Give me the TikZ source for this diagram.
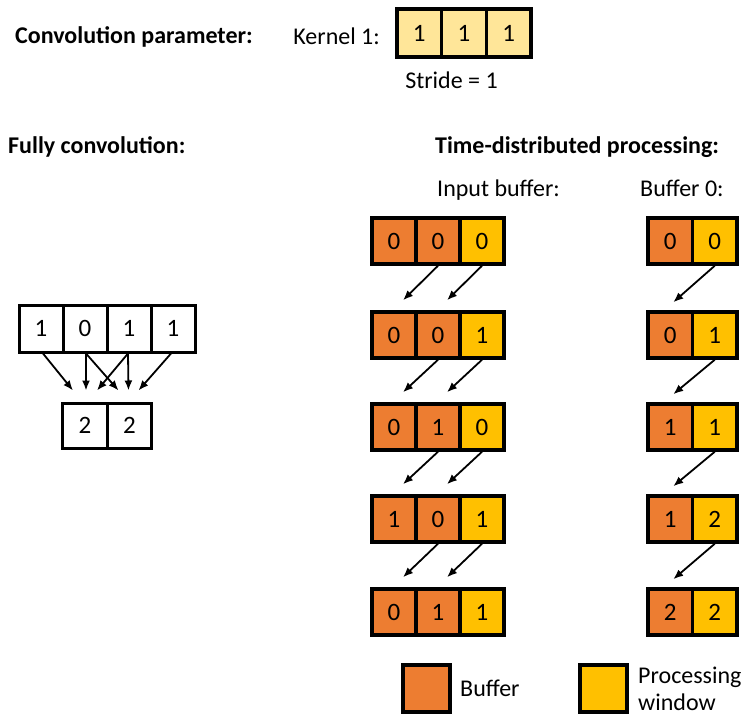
\documentclass[tikz,border=0pt]{standalone}
\usepackage{fontspec}
\setmainfont{Carlito}
\usetikzlibrary{arrows.meta}
\definecolor{bufc}{HTML}{ED7D31}
\definecolor{winc}{HTML}{FFC000}
\definecolor{kerc}{HTML}{FFE699}
\begin{document}
\begin{tikzpicture}[x=1pt,y=-1pt,
  cell/.style={draw=black,line width=3.5pt,minimum width=44pt,minimum height=46pt,inner sep=0pt,font=\fontsize{25}{28}\selectfont},
  bufcell/.style={cell,fill=bufc},
  wincell/.style={cell,fill=winc},
  kcell/.style={cell,fill=kerc,minimum width=44.7pt,minimum height=48pt},
  fcell/.style={cell,fill=white,line width=3pt,minimum height=47pt},
  lbl/.style={inner sep=0pt,font=\fontsize{24}{28}\selectfont},
  ttl/.style={inner sep=0pt,font=\fontsize{24}{28}\selectfont\bfseries},
  arr/.style={-{Latex[length=10pt,width=8pt]},line width=1.8pt}]
\useasboundingbox (0,0) rectangle (745,715);
% titles
\node[ttl,anchor=base west] (t1) at (15,43) {Convolution parameter:};
\node[lbl,anchor=base east] (kl) at (380,44) {Kernel 1:};
\node[kcell] (k1) at (419.3,33) {1};
\node[kcell] (k2) at (464,33) {1};
\node[kcell] (k3) at (508.7,33) {1};
\node[lbl,anchor=base] (st) at (451.5,88) {Stride = 1};
\node[ttl,anchor=base west] (t2) at (8,153) {Fully convolution:};
\node[ttl,anchor=base west] (t3) at (435,153) {Time-distributed processing:};
\node[lbl,anchor=base west] (t4) at (437,196) {Input buffer:};
\node[lbl,anchor=base west] (t5) at (640,196) {Buffer 0:};
% fully convolution
\foreach \v [count=\i] in {1,0,1,1}
  \node[fcell] (f\i) at ({19+22+44*(\i-1)},328.5) {\v};
\node[fcell,minimum width=44.5pt,minimum height=45pt] (o1) at (85,425.5) {2};
\node[fcell,minimum width=44.5pt,minimum height=45pt] (o2) at (129.5,425.5) {2};
\draw[arr] ([xshift=2pt]f1.south) -- ([xshift=-12pt,yshift=11pt]o1.north);
\draw[arr] ([xshift=1pt]f2.south) -- ([xshift=1pt,yshift=11pt]o1.north);
\draw[arr] ([xshift=1pt]f2.south) -- ([xshift=-11pt,yshift=11pt]o2.north);
\draw[arr] ([xshift=-1pt]f3.south) -- ([xshift=12pt,yshift=11pt]o1.north);
\draw[arr] ([xshift=-1pt]f3.south) -- ([xshift=-1pt,yshift=11pt]o2.north);
\draw[arr] ([xshift=-2pt]f4.south) -- ([xshift=9pt,yshift=11pt]o2.north);
% input buffer
\foreach \r/\y/\a/\b/\c in {1/241/0/0/0,2/335/0/0/1,3/427/0/1/0,4/519/1/0/1,5/612/0/1/1}{
  \node[bufcell] (ib\r-1) at (394,\y) {\a};
  \node[bufcell] (ib\r-2) at (438,\y) {\b};
  \node[wincell] (ib\r-3) at (482,\y) {\c};
}
% buffer 0
\foreach \r/\y/\a/\b in {1/241/0/0,2/335/0/1,3/427/1/1,4/519/1/2,5/612/2/2}{
  \node[bufcell,minimum width=44.5pt] (bz\r-1) at (670.25,\y) {\a};
  \node[wincell,minimum width=44.5pt] (bz\r-2) at (714.75,\y) {\b};
}
\foreach \r [evaluate=\r as \n using int(\r+1)] in {1,2,3,4}{
  \draw[arr] (ib\r-2.south) -- ([xshift=9pt,yshift=10pt]ib\n-1.north);
  \draw[arr] (ib\r-3.south) -- ([xshift=9pt,yshift=10pt]ib\n-2.north);
  \draw[arr] (bz\r-2.south) -- ([xshift=3pt,yshift=8pt]bz\n-1.north);
}
% legend
\node[bufcell,minimum width=47pt,minimum height=47pt] (lb) at (426.5,688.5) {};
\node[lbl,anchor=base west] (lbt) at (460,696) {Buffer};
\node[wincell,minimum width=47pt,minimum height=47pt] (lw) at (603.5,688.5) {};
\node[lbl,anchor=base west] (lwt1) at (638,683) {Processing};
\node[lbl,anchor=base west] (lwt2) at (638,710) {window};
\end{tikzpicture}
\end{document}
